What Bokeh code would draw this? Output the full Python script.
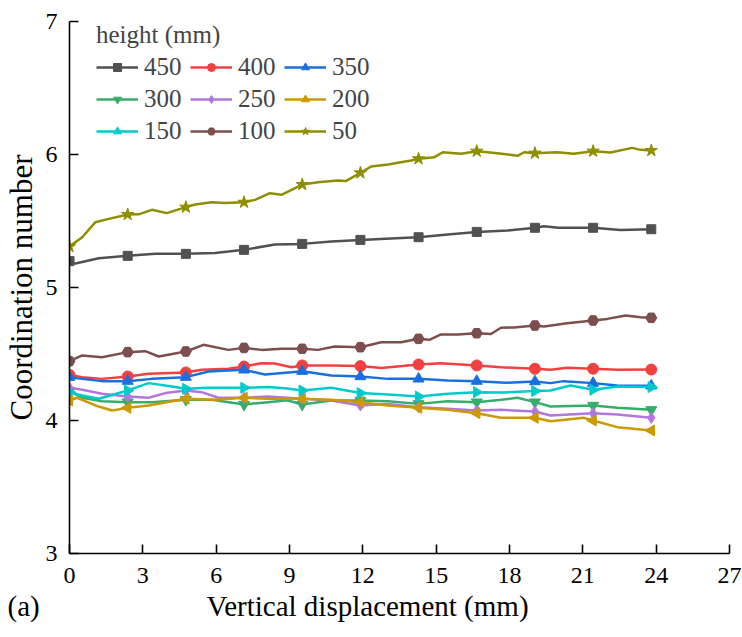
import math
from bokeh.plotting import figure
from bokeh.models import Legend, LegendItem, Title, FixedTicker, Range1d
from bokeh.embed import file_html
from bokeh.resources import INLINE

# ---------------- data ----------------
x_ticks = [0, 3, 6, 9, 12, 15, 18, 21, 24, 27]
y_ticks = [3, 4, 5, 6, 7]
heights = ["450", "400", "350", "300", "250", "200", "150", "100", "50"]
colors = ["#515151", "#F14040", "#1A6FDF", "#37AD6B", "#B177DE",
          "#CC9900", "#00CBCC", "#7D4E4E", "#8E8E00"]
marker_types = ["square", "circle", "triangle", "inverted_triangle", "diamond",
                "triangle", "triangle", "hex", "star"]
marker_angles = [0, 0, 0, 0, 0, math.pi / 2, -math.pi / 2, 0, 0]
marker_x = [0, 2.38, 4.76, 7.14, 9.52, 11.9, 14.28, 16.66, 19.04, 21.42, 23.8]

x450 = [0, 0.24, 1.2, 2.38, 3.51, 4.76, 5.95, 6.5, 7.14, 8.4, 9.52, 10.71, 11.9,
        13.57, 14.28, 15.47, 16.66, 17.92, 19.04, 19.41, 20.0, 21.42, 22.54, 23.8]
y450 = [5.198, 5.18, 5.22, 5.238, 5.253, 5.253, 5.26, 5.27, 5.283, 5.323, 5.328,
        5.345, 5.358, 5.372, 5.378, 5.398, 5.418, 5.429, 5.449, 5.46, 5.45, 5.449,
        5.433, 5.438]

x400 = [0, 0.52, 1.33, 2.38, 3.24, 4.76, 5.41, 6.5, 7.14, 7.86, 8.4, 9.08, 9.52,
        10.71, 11.9, 12.75, 14.28, 15.2, 16.66, 17.65, 19.04, 19.68, 20.36, 21.42,
        22.41, 23.8]
y400 = [4.343, 4.326, 4.313, 4.331, 4.351, 4.361, 4.381, 4.389, 4.406, 4.431, 4.428,
        4.40, 4.414, 4.414, 4.409, 4.394, 4.421, 4.431, 4.414, 4.40, 4.389, 4.381,
        4.396, 4.389, 4.381, 4.383]

x350 = [0, 0.52, 1.33, 2.38, 3.37, 4.76, 5.69, 6.5, 7.14, 7.99, 9.08, 9.52, 10.71,
        11.9, 13.03, 14.28, 15.47, 16.66, 17.85, 19.04, 19.68, 20.22, 21.42, 22.41,
        23.8]
y350 = [4.326, 4.313, 4.296, 4.296, 4.313, 4.326, 4.368, 4.376, 4.381, 4.346, 4.363,
        4.371, 4.338, 4.331, 4.313, 4.313, 4.301, 4.296, 4.284, 4.293, 4.281, 4.296,
        4.281, 4.263, 4.261]

x300 = [0, 0.52, 1.33, 2.38, 3.37, 4.76, 5.82, 7.14, 8.13, 8.9, 9.52, 10.71, 11.9,
        13.03, 14.28, 15.47, 16.66, 17.65, 18.33, 19.04, 19.68, 21.42, 22.41, 23.8]
y300 = [4.221, 4.171, 4.145, 4.138, 4.138, 4.156, 4.156, 4.120, 4.138, 4.152, 4.120,
        4.150, 4.150, 4.145, 4.125, 4.145, 4.138, 4.156, 4.171, 4.138, 4.105, 4.113,
        4.095, 4.080]

x250 = [0, 0.52, 1.33, 2.38, 3.24, 3.92, 4.76, 5.41, 6.09, 7.14, 8.13, 8.9, 9.52,
        10.71, 11.9, 13.03, 14.28, 15.47, 16.66, 17.65, 19.04, 19.68, 21.42, 22.41,
        23.8]
y250 = [4.246, 4.231, 4.201, 4.180, 4.171, 4.206, 4.226, 4.213, 4.171, 4.171, 4.180,
        4.171, 4.163, 4.150, 4.113, 4.125, 4.100, 4.088, 4.075, 4.080, 4.068, 4.038,
        4.055, 4.045, 4.020]

x200 = [0, 0.31, 1.06, 1.74, 2.38, 3.24, 4.76, 5.95, 7.14, 8.13, 8.9, 9.52, 10.71,
        11.9, 13.03, 14.28, 15.47, 16.66, 17.65, 19.04, 19.68, 21.04, 21.42, 22.41,
        23.8]
y200 = [4.150, 4.171, 4.113, 4.075, 4.095, 4.113, 4.163, 4.156, 4.171, 4.163, 4.165,
        4.163, 4.156, 4.138, 4.113, 4.095, 4.080, 4.055, 4.020, 4.020, 3.995, 4.020,
        4.000, 3.950, 3.925]

x150 = [0, 0.52, 1.2, 2.38, 3.24, 3.92, 4.76, 5.69, 7.14, 8.13, 8.9, 9.52, 10.71,
        11.9, 13.03, 14.28, 15.47, 16.66, 17.65, 19.04, 19.68, 20.49, 21.42, 22.41,
        23.8]
y150 = [4.213, 4.188, 4.163, 4.226, 4.281, 4.263, 4.238, 4.246, 4.246, 4.251, 4.240,
        4.226, 4.246, 4.206, 4.195, 4.180, 4.201, 4.213, 4.210, 4.221, 4.226, 4.263,
        4.231, 4.256, 4.251]

x100 = [0, 0.52, 1.33, 2.38, 3.1, 3.65, 4.76, 5.48, 6.5, 7.14, 7.86, 8.67, 9.52,
        10.17, 10.85, 11.9, 12.75, 13.57, 14.28, 14.72, 15.2, 15.88, 16.66, 17.24,
        17.65, 18.19, 19.04, 19.41, 20.36, 21.42, 22.0, 22.75, 23.36, 23.8]
y100 = [4.446, 4.489, 4.476, 4.514, 4.521, 4.481, 4.519, 4.569, 4.531, 4.546, 4.531,
        4.539, 4.539, 4.531, 4.556, 4.551, 4.589, 4.589, 4.614, 4.607, 4.647, 4.647,
        4.656, 4.650, 4.697, 4.700, 4.714, 4.707, 4.732, 4.752, 4.764, 4.789, 4.777,
        4.772]

x50 = [0, 0.52, 1.06, 1.61, 2.38, 2.83, 3.37, 3.98, 4.76, 5.14, 5.82, 6.36, 7.14,
       7.59, 8.2, 8.67, 9.52, 10.17, 10.98, 11.3, 11.9, 12.34, 13.03, 13.97, 14.28,
       14.93, 15.27, 16.02, 16.66, 17.51, 18.33, 18.6, 19.04, 19.95, 20.62, 21.42,
       22.13, 23.02, 23.36, 23.8]
y50 = [5.308, 5.378, 5.491, 5.516, 5.549, 5.550, 5.584, 5.559, 5.604, 5.624, 5.641,
       5.635, 5.641, 5.659, 5.709, 5.697, 5.774, 5.792, 5.805, 5.800, 5.862, 5.910,
       5.925, 5.955, 5.968, 5.980, 6.017, 6.005, 6.025, 6.010, 5.990, 6.017, 6.010,
       6.017, 6.005, 6.025, 6.015, 6.050, 6.035, 6.030]

series_x = [x450, x400, x350, x300, x250, x200, x150, x100, x50]
series_y = [y450, y400, y350, y300, y250, y200, y150, y100, y50]

panel_tag = "(a)"
x_title = "Vertical displacement (mm)"
y_title = "Coordination number"

FONT = "Liberation Serif"

# ---------------- figure ----------------
p = figure(width=742, height=637, output_backend="svg", toolbar_location=None,
           x_range=Range1d(0, 27), y_range=Range1d(3, 7),
           min_border_left=67, min_border_right=13, min_border_top=21,
           min_border_bottom=84)
p.outline_line_color = None
p.xgrid.visible = False
p.ygrid.visible = False
p.background_fill_color = "white"
p.border_fill_color = "white"

for ax in (p.xaxis[0], p.yaxis[0]):
    ax.axis_line_color = "black"
    ax.axis_line_width = 1.6
    ax.major_tick_line_color = "black"
    ax.major_tick_line_width = 1.6
    ax.major_tick_in = 9
    ax.major_tick_out = 0
    ax.minor_tick_line_color = None
    ax.major_label_text_font = FONT
    ax.major_label_text_font_size = "24px"
    ax.major_label_text_color = "black"
    ax.axis_label_text_font = FONT
    ax.axis_label_text_font_style = "normal"
    ax.axis_label_text_color = "black"

p.yaxis.axis_label_text_font_size = "31px"
p.xaxis.ticker = FixedTicker(ticks=x_ticks)
p.yaxis.ticker = FixedTicker(ticks=y_ticks)
p.yaxis.axis_label = y_title
p.xaxis.major_label_standoff = 14
p.yaxis.major_label_standoff = 12
p.yaxis.axis_label_standoff = 4

# bottom caption: panel tag and x-axis title on one line (tag sits left of frame)
caption = Title(text=panel_tag + "\u00a0" * 23 + x_title, align="left",
                offset=-62, standoff=4, text_font=FONT, text_font_size="29px",
                text_font_style="normal", text_color="black")
p.add_layout(caption, "below")

items = []
mset = set(round(v, 2) for v in marker_x)
for h, c, mt, ang, xs, ys in zip(heights, colors, marker_types, marker_angles,
                                 series_x, series_y):
    lr = p.line(xs, ys, line_color=c, line_width=2.5)
    mx = [a for a in xs if round(a, 2) in mset]
    my = [b for a, b in zip(xs, ys) if round(a, 2) in mset]
    sz = 13 if mt == "star" else (9 if mt == "square" else 11)
    sr = p.scatter(mx, my, marker=mt, size=sz, angle=ang, fill_color=c,
                   line_color=c)
    items.append(LegendItem(label=h, renderers=[lr, sr]))

legend = Legend(items=items, orientation="horizontal", ncols=3,
                title="height (mm)", location=(27, 408))
legend.title_text_font = FONT
legend.title_text_font_size = "25px"
legend.title_text_font_style = "normal"
legend.title_standoff = 4
legend.label_text_font = FONT
legend.label_text_font_size = "25px"
legend.glyph_width = 42
legend.glyph_height = 20
legend.label_standoff = 6
legend.label_width = 42
legend.spacing = 4
legend.padding = 2
legend.margin = 0
legend.border_line_color = None
legend.background_fill_alpha = 0
p.add_layout(legend, "center")

open("out.html", "w").write(file_html(p, INLINE))
